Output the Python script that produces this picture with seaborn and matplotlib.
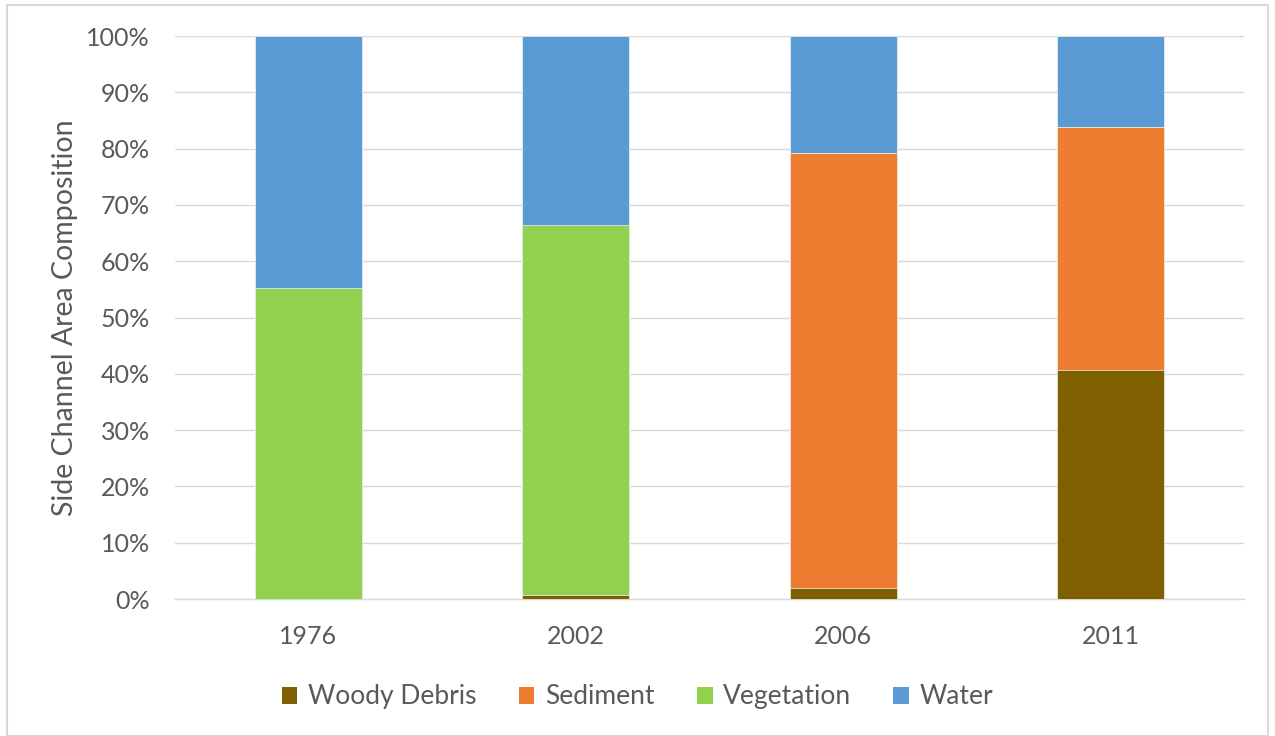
import matplotlib
matplotlib.use("Agg")
import matplotlib.pyplot as plt
from matplotlib.patches import Rectangle, Patch
from matplotlib.ticker import PercentFormatter, MultipleLocator
import numpy as np
import pandas as pd
import seaborn as sns

years = ["1976", "2002", "2006", "2011"]
woody_debris = [0.0, 0.8, 1.9, 40.7]
sediment = [0.0, 0.0, 77.3, 43.1]
vegetation = [55.2, 65.6, 0.0, 0.0]
water = [44.8, 33.6, 20.8, 16.2]

series_names = ["Woody Debris", "Sediment", "Vegetation", "Water"]
series_values = [woody_debris, sediment, vegetation, water]
colors = ["#7f6000", "#ed7d31", "#92d050", "#5b9bd5"]

sns.set_theme(style="white")
plt.rcParams["font.family"] = ["Lato", "DejaVu Sans"]

fig = plt.figure(figsize=(12.75, 7.36), dpi=100)
ax = fig.add_axes([0.137, 0.186, 0.839, 0.765])

# cumulative tops for stacking; draw the tallest layer first
cum = np.cumsum(np.array(series_values), axis=0)
for i in range(len(series_names) - 1, -1, -1):
    df = pd.DataFrame({"year": years, "value": cum[i]})
    sns.barplot(data=df, x="year", y="value", color=colors[i], width=0.4,
                saturation=1, edgecolor="#f4f4f4", linewidth=0.5, ax=ax, zorder=3)

ax.set_ylim(0, 100)
ax.yaxis.set_major_locator(MultipleLocator(10))
ax.yaxis.set_major_formatter(PercentFormatter(decimals=0))
ax.grid(axis="y", color="#d9d9d9", linewidth=1.0, zorder=0)
ax.set_axisbelow(True)
for s in ["top", "right", "left"]:
    ax.spines[s].set_visible(False)
ax.spines["bottom"].set_color("#d9d9d9")
ax.spines["bottom"].set_linewidth(1.0)
ax.tick_params(axis="both", length=0, labelsize=18, colors="#595959")
ax.tick_params(axis="y", pad=18)
ax.tick_params(axis="x", pad=19)
ax.set_xlabel("")
ax.set_ylabel("Side Channel Area Composition", fontsize=20.5, color="#595959")
ax.yaxis.set_label_coords(-0.09, 0.5)

handles = [Patch(facecolor=c, edgecolor="none") for c in colors]
fig.legend(handles, series_names, loc="center", bbox_to_anchor=(0.5, 0.053), ncol=4,
           frameon=False, fontsize=19, handlelength=0.6, handleheight=0.6,
           handletextpad=0.4, columnspacing=1.6, labelcolor="#595959")

fig.patches.append(Rectangle((7 / 1275, 0.0), 1261 / 1275, 1 - 5 / 736,
                             transform=fig.transFigure, fill=False,
                             edgecolor="#d9d9d9", linewidth=1.5))

fig.savefig("out.png", dpi=100, facecolor="white")
